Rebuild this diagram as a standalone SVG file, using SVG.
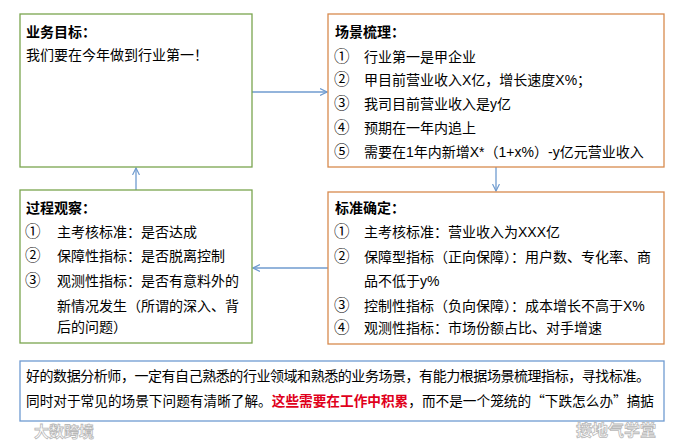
<svg xmlns="http://www.w3.org/2000/svg" width="674" height="445" viewBox="0 0 674 445">
<style>
.box{fill:#fff;stroke-width:1.3}
.g{stroke:#7AA54F}
.o{stroke:#D88A4E}
.b{stroke:#6F9BD1}
text{font-family:"Liberation Sans","Noto Sans CJK SC",sans-serif;font-size:14px;fill:#000}
.t{font-weight:bold}
.n{font-family:"Noto Sans CJK SC",sans-serif;font-size:15.5px}
.cjk{font-family:"Noto Sans CJK SC",sans-serif}
.red{fill:#E0001B;font-weight:bold}
.wm{fill:#fff;stroke:#b8b8b8;stroke-width:0.8;font-size:16px;font-weight:bold}
.c{stroke:#6F9BCF;stroke-width:1.3;fill:none;marker-end:url(#ah)}
</style>
<defs>
<marker id="ah" viewBox="0 0 8 8" refX="7" refY="4" markerWidth="8" markerHeight="8" markerUnits="userSpaceOnUse" orient="auto">
<path d="M0,0.5 L7,4 L0,7.5" fill="none" stroke="#6F9BCF" stroke-width="1.2"/>
</marker>
</defs>
<rect width="674" height="445" fill="#fff"/>
<g id="connectors">
<path class="c" d="M252,92 H327"/>
<path class="c" d="M496,167 V191"/>
<path class="c" d="M328,268 H253"/>
<path class="c" d="M136,190 V168"/>
</g>
<g id="goal">
<rect class="box g" x="20" y="14" width="232" height="153"/>
<text class="t" x="26" y="37">业务目标：</text>
<text x="26" y="60">我们要在今年做到行业第一！</text>
</g>
<g id="scene">
<rect class="box o" x="328" y="14" width="336" height="153"/>
<text class="t" x="335" y="37">场景梳理：</text>
<text class="n" x="334" y="62">①</text><text x="364" y="62">行业第一是甲企业</text>
<text class="n" x="334" y="85">②</text><text x="364" y="85">甲目前营业收入X亿，增长速度X%；</text>
<text class="n" x="334" y="109">③</text><text x="364" y="109">我司目前营业收入是y亿</text>
<text class="n" x="334" y="133">④</text><text x="364" y="133">预期在一年内追上</text>
<text class="n" x="334" y="157">⑤</text><text x="364" y="157">需要在1年内新增X*（1+x%）-y亿元营业收入</text>
</g>
<g id="observe">
<rect class="box g" x="20" y="190" width="232" height="153"/>
<text class="t" x="26" y="213">过程观察：</text>
<text class="n" x="25" y="237">①</text><text x="57" y="237">主考核标准：是否达成</text>
<text class="n" x="25" y="261">②</text><text x="57" y="261">保障性指标：是否脱离控制</text>
<text class="n" x="25" y="286">③</text><text x="57" y="286">观测性指标：是否有意料外的</text>
<text x="57" y="311">新情况发生（所谓的深入、背</text>
<text x="57" y="332">后的问题）</text>
</g>
<g id="standard">
<rect class="box o" x="328" y="192" width="336" height="152"/>
<text class="t" x="335" y="213">标准确定：</text>
<text class="n" x="334" y="237">①</text><text x="364" y="237">主考核标准：营业收入为XXX亿</text>
<text class="n" x="334" y="262">②</text><text x="364" y="262">保障型指标（正向保障）：用户数、专化率、商</text>
<text x="364" y="286">品不低于y%</text>
<text class="n" x="334" y="311">③</text><text x="364" y="311">控制性指标（负向保障）：成本增长不高于X%</text>
<text class="n" x="334" y="333">④</text><text x="364" y="333">观测性指标：市场份额占比、对手增速</text>
</g>
<g id="note">
<rect class="box b" x="20" y="361" width="644" height="60"/>
<text x="26" y="381" textLength="624" lengthAdjust="spacing">好的数据分析师，一定有自己熟悉的行业领域和熟悉的业务场景，有能力根据场景梳理指标，寻找标准。</text>
<text x="26" y="406" textLength="628" lengthAdjust="spacingAndGlyphs">同时对于常见的场景下问题有清晰了解。<tspan class="red">这些需要在工作中积累</tspan>，而不是一个笼统的<tspan class="cjk">“下跌怎么办”</tspan>搞掂</text>
</g>
<g id="watermarks">
<text class="wm" x="576" y="436">接地气学堂</text>
<text class="wm" x="34" y="437" style="font-size:15px">大数跨境</text>
</g>
</svg>
